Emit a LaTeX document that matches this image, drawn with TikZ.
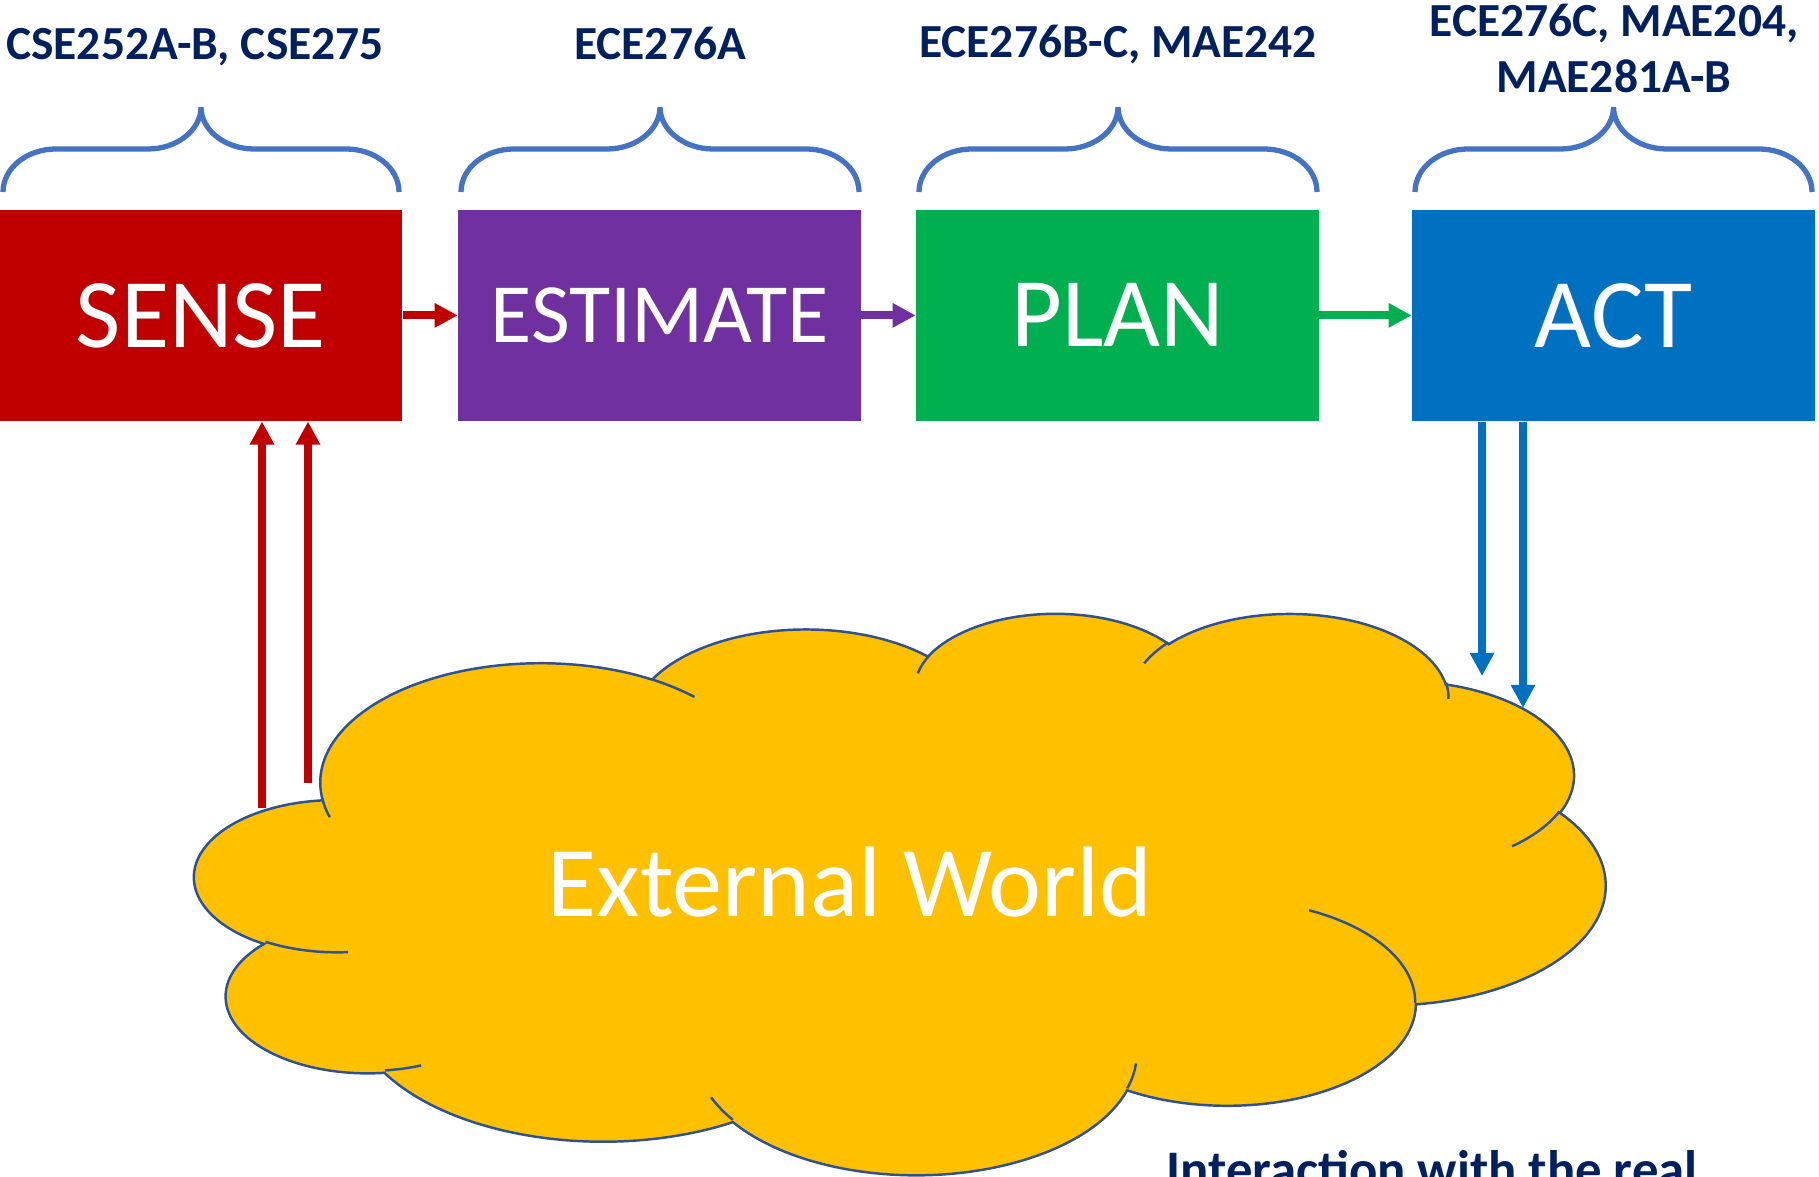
\documentclass[tikz,border=0pt]{standalone}
\usepackage{fontspec}
\setmainfont{Carlito}
\usetikzlibrary{arrows.meta}

\definecolor{senseRed}{HTML}{C00000}
\definecolor{estPurple}{HTML}{7030A0}
\definecolor{planGreen}{HTML}{00B050}
\definecolor{actBlue}{HTML}{0070C0}
\definecolor{braceBlue}{HTML}{4472C4}
\definecolor{navy}{HTML}{002060}
\definecolor{cloudFill}{HTML}{FFC000}
\definecolor{cloudEdge}{HTML}{2F528F}

\newcommand{\cloudarc}[4]{arc[x radius=#1, y radius=#2, start angle={atan2((#1)*sin(#3),(#2)*cos(#3))}, delta angle={mod(atan2((#1)*sin((#3)+(#4)),(#2)*cos((#3)+(#4)))-atan2((#1)*sin(#3),(#2)*cos(#3))+720,360)}]}

\tikzset{
  box/.style={minimum width=4.02cm, minimum height=2.107cm, inner sep=0pt, text=white, font=\fontsize{28}{34}\selectfont},
  course/.style={anchor=base, inner sep=0pt, text=navy, font=\bfseries\fontsize{13.5}{16}\selectfont},
  brace/.style={draw=braceBlue, line width=1.5pt},
  flow/.style={line width=2.25pt, -{Triangle[length=0.23cm,width=0.23cm]}},
  cloudline/.style={draw=cloudEdge, line width=0.7pt}
}

\begin{document}
\begin{tikzpicture}[x=0.01cm, y=-0.01cm]
    \useasboundingbox (0,0) rectangle (1819,1177);
    \clip (0,0) rectangle (1819,1177);

    \node[box, fill=senseRed] (S) at (201,315.4) {SENSE};
    \node[box, fill=estPurple, font=\fontsize{24}{29}\selectfont] (E) at (659.5,315.4) {ESTIMATE};
    \node[box, fill=planGreen] (P) at (1117.5,315.4) {PLAN};
    \node[box, fill=actBlue] (A) at (1613.5,315.4) {ACT};

    \node[course] (L1) at (195,60) {CSE252A-B, CSE275};
    \node[course] (L2) at (660,60) {ECE276A};
    \node[course] (L3) at (1118,58) {ECE276B-C, MAE242};
    \node[course, anchor=north, align=center] (L4) at (1614,3) {ECE276C, MAE204,\\MAE281A-B};

    \foreach \xa/\xb in {3/399, 461/859, 919/1317, 1415/1812}
      \draw[brace] (\xa,192) .. controls (\xa,168) and ({\xa+24},149) .. ({\xa+53},149)
        -- ({(\xa+\xb)/2-53},149) .. controls ({(\xa+\xb)/2-24},149) and ({(\xa+\xb)/2},130) .. ({(\xa+\xb)/2},107)
        ({(\xa+\xb)/2},107) .. controls ({(\xa+\xb)/2},130) and ({(\xa+\xb)/2+24},149) .. ({(\xa+\xb)/2+53},149)
        -- ({\xb-53},149) .. controls ({\xb-24},149) and (\xb,168) .. (\xb,192);

    \draw[flow, senseRed] (S) -- (E);
    \draw[flow, estPurple] (E) -- (P);
    \draw[flow, planGreen] (P) -- (A);

    \begin{scope}[shift={(195,612)}, x=0.032616cm, y=-0.012986cm]
      \draw[cloudline, fill=cloudFill] (39,143.7) \cloudarc{67.53}{91.90}{-190.4875}{123.7805}
        \cloudarc{53.33}{72.67}{-144.1024}{89.9452}
        \cloudarc{43.65}{59.45}{-145.8079}{99.7230}
        \cloudarc{48.57}{65.95}{-130.9861}{117.2417}
        \cloudarc{53.33}{72.73}{-78.7089}{109.0269}
        \cloudarc{67.75}{92.20}{-46.2673}{130.2690}
        \cloudarc{57.85}{78.67}{0.6250}{114.0333}
        \cloudarc{67.52}{92.15}{22.4516}{115.1726}
        \cloudarc{77.20}{105.43}{66.2426}{75.7110}
        \cloudarc{43.60}{59.18}{-274.9421}{146.7356}
        \cloudarc{43.45}{59.45}{-246.8285}{152.5189} -- cycle;
      \draw[cloudline] (46.93,261.77) \cloudarc{43.45}{59.45}{86.7420}{26.4295};
      \draw[cloudline] (69.28,348.99) \cloudarc{43.60}{59.18}{73.6105}{11.4475};
      \draw[cloudline] (164.78,390.90) \cloudarc{67.52}{92.15}{137.6242}{14.0811};
      \draw[cloudline] (288.27,347.51) \cloudarc{67.52}{92.15}{6.4533}{15.9984};
      \draw[cloudline] (341.29,229.54) \cloudarc{57.85}{78.67}{-70.2924}{70.9174};
      \draw[cloudline] (417.98,153.54) \cloudarc{53.33}{72.73}{30.3180}{27.7515};
      \draw[cloudline] (383.24,54.26) \cloudarc{48.57}{65.95}{-13.7443}{14.8636};
      \draw[cloudline] (290.78,39.52) \cloudarc{48.57}{65.95}{-149.1815}{18.1876};
      \draw[cloudline] (221.41,47.20) \cloudarc{43.65}{59.45}{-163.4943}{17.6953};
      \draw[cloudline] (140.00,51.92) \cloudarc{67.53}{91.90}{-66.7070}{12.3194};
      \draw[cloudline] (41.27,157.89) \cloudarc{67.53}{91.90}{157.6544}{11.8582};
    \end{scope}

    \node[anchor=base, text=white, font=\fontsize{28.5}{34}\selectfont] (W) at (850,916) {External World};

    \coordinate (s1) at (262,808);
    \coordinate (s2) at (308,783);
    \draw[flow, senseRed] (s1) -- (s1 |- S.south);
    \draw[flow, senseRed] (s2) -- (s2 |- S.south);

    \coordinate (a1) at (1482,676);
    \coordinate (a2) at (1523,708);
    \draw[flow, actBlue] (a1 |- A.south) -- (a1);
    \draw[flow, actBlue] (a2 |- A.south) -- (a2);

    \node[anchor=base west, inner sep=0pt, text=navy, font=\bfseries\fontsize{15}{18}\selectfont] (N) at (1166,1187) {Interaction with the real};
\end{tikzpicture}
\end{document}
